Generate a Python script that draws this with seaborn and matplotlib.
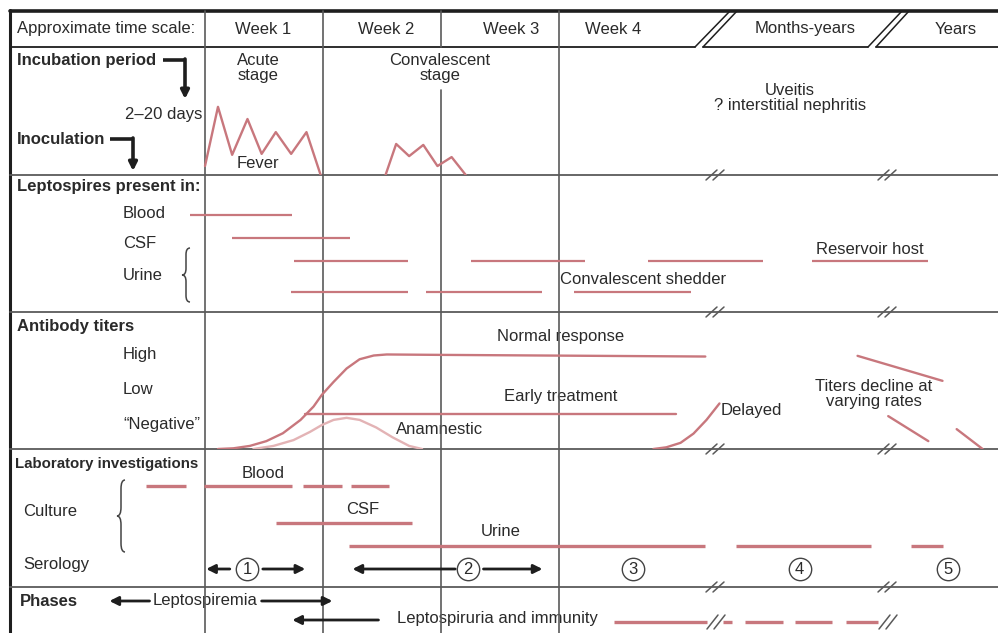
import numpy as np
import pandas as pd
import seaborn as sns
import matplotlib.pyplot as plt
from matplotlib.path import Path
from matplotlib.patches import PathPatch

sns.set_theme(style="white")
plt.rcParams["font.family"] = ["Liberation Sans", "DejaVu Sans"]

# ---- data (time in weeks after onset; later columns are compressed) ----
week_labels = ["Week 1", "Week 2", "Week 3", "Week 4", "Months-years", "Years"]

fever_acute_wk = [0.0, 0.11, 0.23, 0.36, 0.48, 0.60, 0.73, 0.86, 0.98]
fever_acute_temp = [37.28, 39.13, 37.63, 38.75, 37.66, 38.34, 37.66, 38.34, 37.0]
fever_conv_wk = [1.53, 1.62, 1.73, 1.85, 1.97, 2.09, 2.21]
fever_conv_temp = [37.0, 37.97, 37.59, 37.94, 37.28, 37.56, 37.0]

# leptospires present in ... (start, end in weeks)
blood_start, blood_end = [-0.13], [0.74]
csf_start, csf_end = [0.23], [1.23]
urine_a_start = [0.75, 2.25, 3.75, 5.14]
urine_a_end = [1.72, 3.22, 4.73, 6.13]
urine_b_start = [0.73, 1.87, 3.13]
urine_b_end = [1.72, 2.86, 4.12]

# antibody titers (arbitrary level 0-4)
normal_wk = [0.11, 0.24, 0.38, 0.52, 0.66, 0.81, 0.92, 0.99, 1.09, 1.20, 1.31, 1.43, 1.54, 1.91, 4.24]
normal_titer = [0.0, 0.02, 0.09, 0.23, 0.46, 0.85, 1.24, 1.58, 1.96, 2.35, 2.62, 2.73, 2.76, 2.75, 2.70]
early_wk = [0.85, 3.99]
early_titer = [1.02, 1.02]
anam_wk = [0.41, 0.58, 0.75, 0.89, 0.99, 1.09, 1.20, 1.31, 1.45, 1.59, 1.73, 1.84]
anam_titer = [0.0, 0.09, 0.26, 0.50, 0.70, 0.85, 0.91, 0.85, 0.63, 0.34, 0.09, 0.0]
delayed_wk = [3.80, 3.91, 4.03, 4.14, 4.25, 4.36]
delayed_titer = [0.0, 0.05, 0.18, 0.45, 0.85, 1.33]
decline_wk = [[5.53, 6.25], [5.79, 6.13], [6.37, 6.59]]
decline_titer = [[2.72, 1.99], [0.96, 0.23], [0.58, 0.0]]

# laboratory investigations
cult_blood_start = [-0.50, -0.01, 0.83, 1.24]
cult_blood_end = [-0.16, 0.74, 1.16, 1.56]
cult_csf_start, cult_csf_end = [0.60], [1.75]
cult_urine_start = [1.22, 4.50, 5.98]
cult_urine_end = [4.24, 5.64, 6.25]
serology_phase = ["1", "2", "3", "4", "5"]
serology_wk = [0.36, 2.23, 3.63, 5.04, 6.30]

# phases
immunity_start = [3.47, 4.39, 4.58, 5.00, 5.43]
immunity_end = [4.25, 4.47, 4.90, 5.31, 5.70]

# ---- styling ----
PINK = "#c8777d"
PINK_LIGHT = "#e3b3b5"
INK = "#1e1e1e"
GRID = "#5a5a5a"
TXT = "#2a2a2a"
W, H = 998, 633
PX_PER_WEEK = 118
X0, X1 = -205 / PX_PER_WEEK, (W - 205) / PX_PER_WEEK

fig = plt.figure(figsize=(W / 100, H / 100), dpi=100)
lay = fig.add_axes([0, 0, 1, 1])           # pixel layout
tax = fig.add_axes([0, 0, 1, 1])           # weeks x, pixel y
fev = fig.add_axes([0, 1 - 175 / H, 1, 128 / H])
tit = fig.add_axes([0, 1 - 449 / H, 1, 137 / H])
for a in (lay, tax, fev, tit):
    a.patch.set_alpha(0)


def draw_segments(ax, starts, ends, y, color=PINK, lw=1.6):
    df = pd.DataFrame({
        "x": np.ravel(list(zip(starts, ends))),
        "y": y,
        "seg": np.repeat(np.arange(len(starts)), 2),
    })
    sns.lineplot(data=df, x="x", y="y", units="seg", estimator=None, sort=False,
                 color=color, lw=lw, ax=ax, solid_capstyle="butt")


def curve(ax, x, y, color=PINK, lw=1.7):
    sns.lineplot(x=x, y=y, estimator=None, sort=False, color=color, lw=lw, ax=ax)


def label(x, y, s, ha="left", bold=False, size=12, **kw):
    lay.text(x, y, s, ha=ha, va="center", fontsize=size, color=TXT,
             fontweight="bold" if bold else "normal", **kw)


def brace(x, y0, y1, w=8):
    ym, q = (y0 + y1) / 2, (y1 - y0) * 0.12
    verts = [(x + w, y0), (x + w / 2, y0), (x + w / 2, y0 + q), (x + w / 2, ym - q),
             (x + w / 2, ym), (x, ym), (x + w / 2, ym), (x + w / 2, ym + q),
             (x + w / 2, y1 - q), (x + w / 2, y1), (x + w, y1)]
    codes = [Path.MOVETO, Path.CURVE3, Path.CURVE3, Path.LINETO, Path.CURVE3, Path.CURVE3,
             Path.CURVE3, Path.CURVE3, Path.LINETO, Path.CURVE3, Path.CURVE3]
    lay.add_patch(PathPatch(Path(verts, codes), fill=False, lw=1.1, ec="#444444"))


def breakmark(x, y, h=5):
    for dx in (0, 7):
        lay.plot([x + dx, x + dx + 11], [y + h, y - h], color=GRID, lw=1.1)


def arrow(ax, tail, head, y, lw=2.0):
    ax.annotate("", xy=(head, y), xytext=(tail, y),
                arrowprops=dict(arrowstyle="-|>", lw=lw, color=INK, mutation_scale=13,
                                shrinkA=0, shrinkB=0))


def down_arrow(x, y_top, y_tip):
    lay.annotate("", xy=(x, y_tip), xytext=(x, y_top),
                 arrowprops=dict(arrowstyle="-|>", lw=2.6, color=INK, mutation_scale=12,
                                 shrinkA=0, shrinkB=0))


# ---- frame & grid ----
lay.plot([10, W], [11, 11], color=INK, lw=2.6)
lay.plot([10, 10], [10, H], color=INK, lw=2.2)
for xa, xb in [(10, 695), (703, 868), (876, W)]:
    lay.plot([xa, xb], [47, 47], color=INK, lw=1.3)
for xa, xb in [(695, 730), (703, 737), (868, 902), (876, 909)]:
    lay.plot([xa, xb], [47, 11], color=INK, lw=1.1)
for yr in [175, 312, 449, 587]:
    lay.plot([10, W], [yr, yr], color=GRID, lw=1.3)
    breakmark(706, yr)
    breakmark(878, yr)
for wk in [0, 1, 3]:
    tax.plot([wk, wk], [11, H], color=GRID, lw=1.2)
tax.plot([2, 2], [11, 47], color=GRID, lw=1.2)
tax.plot([2, 2], [90, H], color=GRID, lw=1.2)

# ---- header ----
label(17, 29, "Approximate time scale:")
for s, xc in zip(week_labels, [263, 386, 511, 613, 805, 956]):
    label(xc, 29, s, ha="center")

# ---- incubation row ----
label(17, 60, "Incubation period", bold=True)
lay.plot([163, 186], [60, 60], color=INK, lw=2.6, solid_capstyle="butt")
down_arrow(185, 59, 99)
label(202, 114, "2\u201320 days", ha="right")
label(17, 139, "Inoculation", bold=True)
lay.plot([110, 134], [139, 139], color=INK, lw=2.6, solid_capstyle="butt")
down_arrow(133, 138, 171)
label(258, 68, "Acute\nstage", ha="center", linespacing=0.95)
label(440, 68, "Convalescent\nstage", ha="center", linespacing=0.95)
label(258, 163, "Fever", ha="center")
label(790, 98, "Uveitis\n? interstitial nephritis", ha="center", linespacing=0.95)
curve(fev, fever_acute_wk, fever_acute_temp)
curve(fev, fever_conv_wk, fever_conv_temp)

# ---- leptospires present in ----
label(17, 186, "Leptospires present in:", bold=True)
label(123, 214, "Blood")
label(123, 244, "CSF")
label(123, 275, "Urine")
brace(182, 248, 302)
draw_segments(tax, blood_start, blood_end, 215)
draw_segments(tax, csf_start, csf_end, 238)
draw_segments(tax, urine_a_start, urine_a_end, 261)
draw_segments(tax, urine_b_start, urine_b_end, 292)
label(870, 249, "Reservoir host", ha="center")
label(560, 279, "Convalescent shedder")

# ---- antibody titers ----
label(17, 326, "Antibody titers", bold=True)
label(123, 355, "High")
label(123, 390, "Low")
label(123, 424, "\u201cNegative\u201d")
curve(tit, anam_wk, anam_titer, color=PINK_LIGHT)
curve(tit, normal_wk, normal_titer)
curve(tit, early_wk, early_titer)
curve(tit, delayed_wk, delayed_titer)
for xs, ys in zip(decline_wk, decline_titer):
    curve(tit, xs, ys)
label(561, 337, "Normal response", ha="center")
label(561, 396, "Early treatment", ha="center")
label(440, 429, "Anamnestic", ha="center")
label(721, 410, "Delayed")
label(874, 394, "Titers decline at\nvarying rates", ha="center", linespacing=0.95)

# ---- laboratory investigations ----
label(15, 464, "Laboratory investigations", bold=True, size=10.8)
label(23, 512, "Culture")
label(23, 564, "Serology")
brace(117, 480, 552)
draw_segments(tax, cult_blood_start, cult_blood_end, 486, lw=2.4)
draw_segments(tax, cult_csf_start, cult_csf_end, 523, lw=2.4)
draw_segments(tax, cult_urine_start, cult_urine_end, 546, lw=2.4)
label(263, 474, "Blood", ha="center")
label(363, 510, "CSF", ha="center")
label(501, 532, "Urine", ha="center")
tax.scatter(serology_wk, [569] * len(serology_wk), s=260, facecolor="white",
            edgecolor="#444444", lw=1.0, zorder=3)
for num, wk in zip(serology_phase, serology_wk):
    tax.text(wk, 570, num, ha="center", va="center", fontsize=12, color=TXT, zorder=4)
arrow(tax, 0.21, 0.01, 569)
arrow(tax, 0.49, 0.85, 569)
arrow(tax, 2.12, 1.25, 569)
arrow(tax, 2.36, 2.86, 569)

# ---- phases ----
label(20, 602, "Phases", bold=True)
label(205, 601, "Leptospiremia", ha="center")
arrow(tax, -0.47, -0.81, 601)
arrow(tax, 0.48, 1.08, 601)
label(397, 619, "Leptospiruria and immunity")
arrow(tax, 1.47, 0.74, 620)
draw_segments(tax, immunity_start, immunity_end, 622, lw=2.4)
breakmark(707, 622, h=7)
breakmark(879, 622, h=7)

# ---- limits ----
lay.set_xlim(0, W); lay.set_ylim(H, 0)
tax.set_xlim(X0, X1); tax.set_ylim(H, 0)
fev.set_xlim(X0, X1); fev.set_ylim(37, 41)
tit.set_xlim(X0, X1); tit.set_ylim(0, 4)
for a in (lay, tax, fev, tit):
    a.axis("off")

fig.savefig("out.png", dpi=100)
